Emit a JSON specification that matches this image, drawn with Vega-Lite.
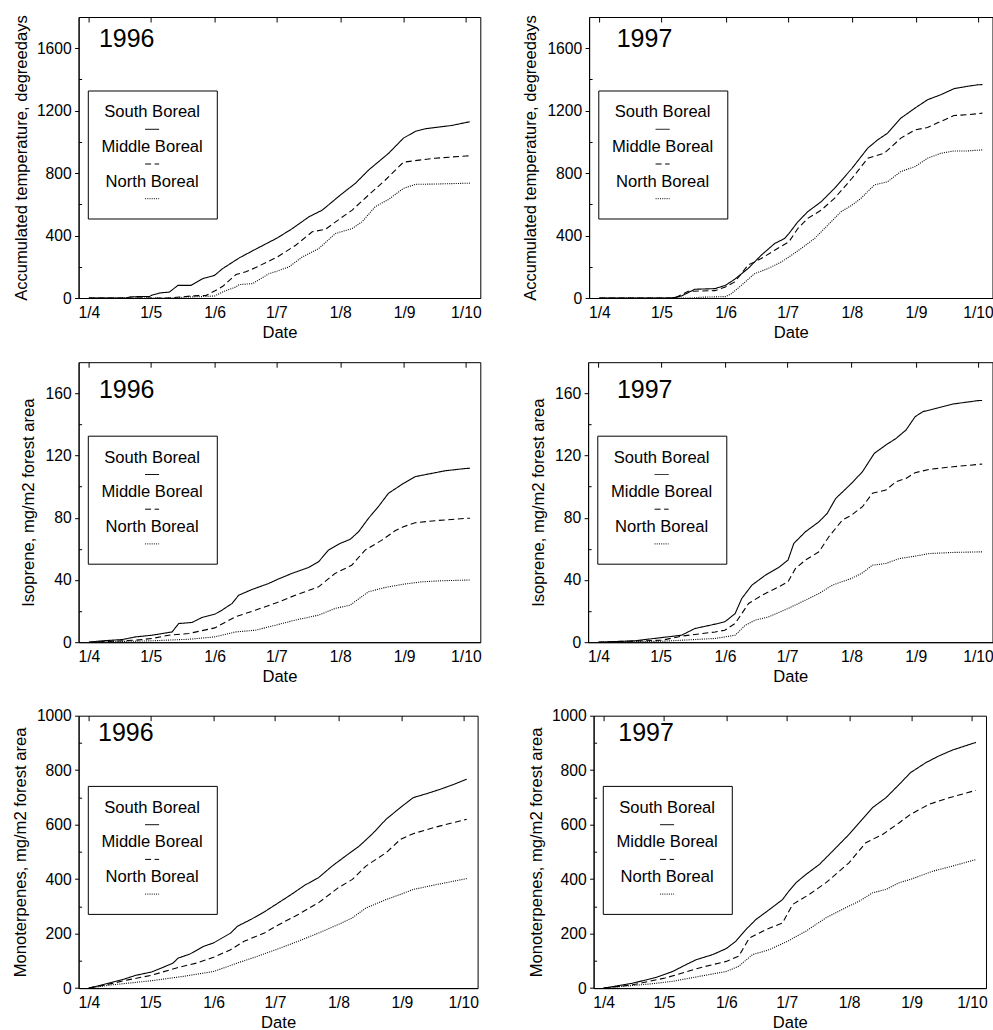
{
"$schema": "https://vega.github.io/schema/vega-lite/v6.json",
"padding": {"left": 11.6, "top": 14, "right": 0, "bottom": 0},
"datasets": {
"t96": [
{"zone":"South Boreal","day":0,"value":0},{"zone":"South Boreal","day":18,"value":0},{"zone":"South Boreal","day":20.6,"value":8},{"zone":"South Boreal","day":29.5,"value":10},{"zone":"South Boreal","day":30.4,"value":17},{"zone":"South Boreal","day":34.3,"value":32},{"zone":"South Boreal","day":39.1,"value":38},{"zone":"South Boreal","day":43.2,"value":81},{"zone":"South Boreal","day":49.6,"value":81},{"zone":"South Boreal","day":55.3,"value":124},{"zone":"South Boreal","day":61,"value":145},{"zone":"South Boreal","day":64.9,"value":188},{"zone":"South Boreal","day":73,"value":257},{"zone":"South Boreal","day":81,"value":313},{"zone":"South Boreal","day":91.5,"value":385},{"zone":"South Boreal","day":98.8,"value":445},{"zone":"South Boreal","day":106.8,"value":520},{"zone":"South Boreal","day":113.3,"value":563},{"zone":"South Boreal","day":122.1,"value":660},{"zone":"South Boreal","day":129.4,"value":735},{"zone":"South Boreal","day":135.8,"value":820},{"zone":"South Boreal","day":145.5,"value":927},{"zone":"South Boreal","day":152.7,"value":1024},{"zone":"South Boreal","day":158.4,"value":1067},{"zone":"South Boreal","day":163.2,"value":1084},{"zone":"South Boreal","day":168,"value":1092},{"zone":"South Boreal","day":176.1,"value":1105},{"zone":"South Boreal","day":183,"value":1124},{"zone":"South Boreal","day":184.9,"value":1129},
{"zone":"Middle Boreal","day":0,"value":0},{"zone":"Middle Boreal","day":38,"value":0},{"zone":"Middle Boreal","day":44,"value":6},{"zone":"Middle Boreal","day":50,"value":13},{"zone":"Middle Boreal","day":57,"value":17},{"zone":"Middle Boreal","day":61,"value":45},{"zone":"Middle Boreal","day":65,"value":75},{"zone":"Middle Boreal","day":71.4,"value":150},{"zone":"Middle Boreal","day":76.2,"value":168},{"zone":"Middle Boreal","day":81,"value":195},{"zone":"Middle Boreal","day":91.5,"value":263},{"zone":"Middle Boreal","day":100.4,"value":338},{"zone":"Middle Boreal","day":108.4,"value":424},{"zone":"Middle Boreal","day":114.9,"value":441},{"zone":"Middle Boreal","day":122.1,"value":510},{"zone":"Middle Boreal","day":127.8,"value":563},{"zone":"Middle Boreal","day":135.8,"value":660},{"zone":"Middle Boreal","day":143.9,"value":756},{"zone":"Middle Boreal","day":152.7,"value":870},{"zone":"Middle Boreal","day":158.4,"value":880},{"zone":"Middle Boreal","day":168,"value":895},{"zone":"Middle Boreal","day":183,"value":910},{"zone":"Middle Boreal","day":184.9,"value":911},
{"zone":"North Boreal","day":0,"value":0},{"zone":"North Boreal","day":43,"value":0},{"zone":"North Boreal","day":47,"value":6},{"zone":"North Boreal","day":55.3,"value":9},{"zone":"North Boreal","day":61,"value":13},{"zone":"North Boreal","day":64.9,"value":39},{"zone":"North Boreal","day":71.4,"value":71},{"zone":"North Boreal","day":73,"value":86},{"zone":"North Boreal","day":79.4,"value":92},{"zone":"North Boreal","day":87.5,"value":156},{"zone":"North Boreal","day":91.5,"value":173},{"zone":"North Boreal","day":97.1,"value":199},{"zone":"North Boreal","day":103.6,"value":263},{"zone":"North Boreal","day":111.6,"value":317},{"zone":"North Boreal","day":119.7,"value":413},{"zone":"North Boreal","day":127.8,"value":445},{"zone":"North Boreal","day":132.6,"value":488},{"zone":"North Boreal","day":139,"value":585},{"zone":"North Boreal","day":145.5,"value":632},{"zone":"North Boreal","day":152.7,"value":702},{"zone":"North Boreal","day":158.4,"value":728},{"zone":"North Boreal","day":168,"value":730},{"zone":"North Boreal","day":183,"value":735},{"zone":"North Boreal","day":184.9,"value":736}
],
"t97": [
{"zone":"South Boreal","day":0,"value":0},{"zone":"South Boreal","day":34.9,"value":0},{"zone":"South Boreal","day":39.7,"value":13},{"zone":"South Boreal","day":46.1,"value":56},{"zone":"South Boreal","day":55.8,"value":60},{"zone":"South Boreal","day":60.9,"value":81},{"zone":"South Boreal","day":65.4,"value":120},{"zone":"South Boreal","day":71.8,"value":188},{"zone":"South Boreal","day":78.2,"value":274},{"zone":"South Boreal","day":84.7,"value":349},{"zone":"South Boreal","day":89.5,"value":381},{"zone":"South Boreal","day":91.6,"value":413},{"zone":"South Boreal","day":95.9,"value":488},{"zone":"South Boreal","day":100.7,"value":553},{"zone":"South Boreal","day":107.2,"value":617},{"zone":"South Boreal","day":113.6,"value":702},{"zone":"South Boreal","day":122.1,"value":831},{"zone":"South Boreal","day":129.7,"value":960},{"zone":"South Boreal","day":134.5,"value":1013},{"zone":"South Boreal","day":139.3,"value":1056},{"zone":"South Boreal","day":145.7,"value":1152},{"zone":"South Boreal","day":152.6,"value":1217},{"zone":"South Boreal","day":158.6,"value":1270},{"zone":"South Boreal","day":165,"value":1302},{"zone":"South Boreal","day":171.4,"value":1341},{"zone":"South Boreal","day":177.9,"value":1356},{"zone":"South Boreal","day":183,"value":1366},{"zone":"South Boreal","day":185.1,"value":1367},
{"zone":"Middle Boreal","day":0,"value":0},{"zone":"Middle Boreal","day":36.5,"value":0},{"zone":"Middle Boreal","day":42.9,"value":43},{"zone":"Middle Boreal","day":55.8,"value":47},{"zone":"Middle Boreal","day":60.9,"value":71},{"zone":"Middle Boreal","day":65.4,"value":103},{"zone":"Middle Boreal","day":71.8,"value":210},{"zone":"Middle Boreal","day":78.2,"value":253},{"zone":"Middle Boreal","day":84.7,"value":306},{"zone":"Middle Boreal","day":91.6,"value":360},{"zone":"Middle Boreal","day":95.9,"value":445},{"zone":"Middle Boreal","day":100.7,"value":510},{"zone":"Middle Boreal","day":107.2,"value":563},{"zone":"Middle Boreal","day":113.6,"value":638},{"zone":"Middle Boreal","day":122.1,"value":767},{"zone":"Middle Boreal","day":129.7,"value":895},{"zone":"Middle Boreal","day":137.7,"value":927},{"zone":"Middle Boreal","day":145.7,"value":1024},{"zone":"Middle Boreal","day":152.6,"value":1077},{"zone":"Middle Boreal","day":158.6,"value":1092},{"zone":"Middle Boreal","day":165,"value":1131},{"zone":"Middle Boreal","day":171.4,"value":1169},{"zone":"Middle Boreal","day":177.9,"value":1174},{"zone":"Middle Boreal","day":185.1,"value":1184},
{"zone":"North Boreal","day":0,"value":0},{"zone":"North Boreal","day":45,"value":0},{"zone":"North Boreal","day":49.3,"value":5},{"zone":"North Boreal","day":60.9,"value":9},{"zone":"North Boreal","day":63.8,"value":28},{"zone":"North Boreal","day":68.6,"value":81},{"zone":"North Boreal","day":75,"value":156},{"zone":"North Boreal","day":81.4,"value":188},{"zone":"North Boreal","day":87.9,"value":231},{"zone":"North Boreal","day":91.6,"value":263},{"zone":"North Boreal","day":97.5,"value":317},{"zone":"North Boreal","day":104,"value":381},{"zone":"North Boreal","day":110.4,"value":467},{"zone":"North Boreal","day":116.8,"value":553},{"zone":"North Boreal","day":122.1,"value":595},{"zone":"North Boreal","day":126.4,"value":638},{"zone":"North Boreal","day":132.9,"value":724},{"zone":"North Boreal","day":139.3,"value":745},{"zone":"North Boreal","day":145.7,"value":810},{"zone":"North Boreal","day":152.6,"value":842},{"zone":"North Boreal","day":158.6,"value":895},{"zone":"North Boreal","day":165,"value":927},{"zone":"North Boreal","day":171.4,"value":942},{"zone":"North Boreal","day":177.9,"value":942},{"zone":"North Boreal","day":185.1,"value":949}
],
"i96": [
{"zone":"South Boreal","day":0,"value":0},{"zone":"South Boreal","day":6.5,"value":0.9},{"zone":"South Boreal","day":16.2,"value":1.7},{"zone":"South Boreal","day":22.6,"value":3.4},{"zone":"South Boreal","day":30.7,"value":4.5},{"zone":"South Boreal","day":40.4,"value":6.6},{"zone":"South Boreal","day":43.6,"value":12},{"zone":"South Boreal","day":50.1,"value":12.7},{"zone":"South Boreal","day":54.9,"value":15.9},{"zone":"South Boreal","day":61.1,"value":18},{"zone":"South Boreal","day":64.6,"value":20.6},{"zone":"South Boreal","day":69.5,"value":24.9},{"zone":"South Boreal","day":72.7,"value":30.2},{"zone":"South Boreal","day":79.2,"value":33.9},{"zone":"South Boreal","day":87.2,"value":37.7},{"zone":"South Boreal","day":91.4,"value":40.3},{"zone":"South Boreal","day":98.5,"value":44.2},{"zone":"South Boreal","day":106.6,"value":48},{"zone":"South Boreal","day":111.5,"value":51.7},{"zone":"South Boreal","day":116.3,"value":59.2},{"zone":"South Boreal","day":122,"value":63.5},{"zone":"South Boreal","day":126.8,"value":66.1},{"zone":"South Boreal","day":130.9,"value":71},{"zone":"South Boreal","day":135.7,"value":79.6},{"zone":"South Boreal","day":140.5,"value":87.1},{"zone":"South Boreal","day":145.4,"value":95.7},{"zone":"South Boreal","day":152.7,"value":102.1},{"zone":"South Boreal","day":158.3,"value":106.4},{"zone":"South Boreal","day":164.8,"value":108.1},{"zone":"South Boreal","day":172.9,"value":110.2},{"zone":"South Boreal","day":183,"value":111.7},{"zone":"South Boreal","day":185,"value":111.8},
{"zone":"Middle Boreal","day":0,"value":0},{"zone":"Middle Boreal","day":22.6,"value":1.3},{"zone":"Middle Boreal","day":30.7,"value":2.4},{"zone":"Middle Boreal","day":38.8,"value":4.5},{"zone":"Middle Boreal","day":48.5,"value":5.6},{"zone":"Middle Boreal","day":61.1,"value":9.2},{"zone":"Middle Boreal","day":71.1,"value":16.3},{"zone":"Middle Boreal","day":80.8,"value":20.6},{"zone":"Middle Boreal","day":91.4,"value":25.5},{"zone":"Middle Boreal","day":100.2,"value":30.2},{"zone":"Middle Boreal","day":111.5,"value":35.6},{"zone":"Middle Boreal","day":119.5,"value":44.2},{"zone":"Middle Boreal","day":127.6,"value":49.5},{"zone":"Middle Boreal","day":134.1,"value":59.2},{"zone":"Middle Boreal","day":142.2,"value":65.6},{"zone":"Middle Boreal","day":148.6,"value":71.6},{"zone":"Middle Boreal","day":152.7,"value":74.2},{"zone":"Middle Boreal","day":158.3,"value":76.8},{"zone":"Middle Boreal","day":168,"value":78.1},{"zone":"Middle Boreal","day":183,"value":79.6},{"zone":"Middle Boreal","day":185,"value":79.7},
{"zone":"North Boreal","day":0,"value":0},{"zone":"North Boreal","day":30.7,"value":0.9},{"zone":"North Boreal","day":48.5,"value":1.9},{"zone":"North Boreal","day":61.1,"value":3.4},{"zone":"North Boreal","day":71.1,"value":6.6},{"zone":"North Boreal","day":80.8,"value":7.7},{"zone":"North Boreal","day":91.4,"value":11.2},{"zone":"North Boreal","day":100.2,"value":14.2},{"zone":"North Boreal","day":111.5,"value":17.4},{"zone":"North Boreal","day":119.5,"value":21.7},{"zone":"North Boreal","day":126.8,"value":23.8},{"zone":"North Boreal","day":135.7,"value":32.4},{"zone":"North Boreal","day":143.8,"value":35.2},{"zone":"North Boreal","day":152.7,"value":37.3},{"zone":"North Boreal","day":161.6,"value":38.8},{"zone":"North Boreal","day":171.2,"value":39.5},{"zone":"North Boreal","day":183,"value":39.9},{"zone":"North Boreal","day":185,"value":40}
],
"i97": [
{"zone":"South Boreal","day":0,"value":0},{"zone":"South Boreal","day":17.4,"value":0.9},{"zone":"South Boreal","day":30.7,"value":3},{"zone":"South Boreal","day":40.1,"value":4.5},{"zone":"South Boreal","day":46.5,"value":8.8},{"zone":"South Boreal","day":56.2,"value":11.6},{"zone":"South Boreal","day":60.9,"value":13.1},{"zone":"South Boreal","day":65.9,"value":18.4},{"zone":"South Boreal","day":69.1,"value":28.1},{"zone":"South Boreal","day":74,"value":36.7},{"zone":"South Boreal","day":80.5,"value":43.1},{"zone":"South Boreal","day":86.9,"value":48},{"zone":"South Boreal","day":91.4,"value":52.8},{"zone":"South Boreal","day":94.2,"value":63.5},{"zone":"South Boreal","day":99.8,"value":71},{"zone":"South Boreal","day":106.3,"value":77.4},{"zone":"South Boreal","day":110.3,"value":82.8},{"zone":"South Boreal","day":114.4,"value":92.4},{"zone":"South Boreal","day":122,"value":102.1},{"zone":"South Boreal","day":127.3,"value":109.6},{"zone":"South Boreal","day":133,"value":121.4},{"zone":"South Boreal","day":138.6,"value":126.8},{"zone":"South Boreal","day":143.5,"value":131},{"zone":"South Boreal","day":148.3,"value":136.4},{"zone":"South Boreal","day":152.7,"value":145},{"zone":"South Boreal","day":156.4,"value":148.2},{"zone":"South Boreal","day":162.8,"value":150.3},{"zone":"South Boreal","day":170.9,"value":153.1},{"zone":"South Boreal","day":183,"value":155.3},{"zone":"South Boreal","day":185,"value":155.4},
{"zone":"Middle Boreal","day":0,"value":0},{"zone":"Middle Boreal","day":30.7,"value":1.3},{"zone":"Middle Boreal","day":40.1,"value":3.9},{"zone":"Middle Boreal","day":56.2,"value":6.6},{"zone":"Middle Boreal","day":60.9,"value":7.7},{"zone":"Middle Boreal","day":65.9,"value":12},{"zone":"Middle Boreal","day":72.4,"value":24.9},{"zone":"Middle Boreal","day":78.8,"value":30.2},{"zone":"Middle Boreal","day":86.9,"value":35.6},{"zone":"Middle Boreal","day":91.4,"value":38.8},{"zone":"Middle Boreal","day":95,"value":47.4},{"zone":"Middle Boreal","day":99.8,"value":52.8},{"zone":"Middle Boreal","day":106.3,"value":58.1},{"zone":"Middle Boreal","day":111.1,"value":67.8},{"zone":"Middle Boreal","day":117.6,"value":78.5},{"zone":"Middle Boreal","day":122,"value":81.7},{"zone":"Middle Boreal","day":127.3,"value":87.1},{"zone":"Middle Boreal","day":132.1,"value":95.7},{"zone":"Middle Boreal","day":138.6,"value":97.8},{"zone":"Middle Boreal","day":143.5,"value":103.2},{"zone":"Middle Boreal","day":148.3,"value":105.3},{"zone":"Middle Boreal","day":152.7,"value":109},{"zone":"Middle Boreal","day":159.6,"value":111.1},{"zone":"Middle Boreal","day":170.9,"value":112.8},{"zone":"Middle Boreal","day":185,"value":114.5},
{"zone":"North Boreal","day":0,"value":0},{"zone":"North Boreal","day":30.7,"value":0.6},{"zone":"North Boreal","day":56.2,"value":2.4},{"zone":"North Boreal","day":60.9,"value":3.4},{"zone":"North Boreal","day":65.9,"value":4.5},{"zone":"North Boreal","day":70.8,"value":10.9},{"zone":"North Boreal","day":75.6,"value":14.2},{"zone":"North Boreal","day":82.1,"value":16.3},{"zone":"North Boreal","day":91.4,"value":21.7},{"zone":"North Boreal","day":98.2,"value":26},{"zone":"North Boreal","day":106.3,"value":31.3},{"zone":"North Boreal","day":112.8,"value":36.7},{"zone":"North Boreal","day":122,"value":41},{"zone":"North Boreal","day":127.3,"value":44.6},{"zone":"North Boreal","day":132.1,"value":49.5},{"zone":"North Boreal","day":138.6,"value":50.6},{"zone":"North Boreal","day":145.1,"value":53.8},{"zone":"North Boreal","day":152.7,"value":55.3},{"zone":"North Boreal","day":159.6,"value":57},{"zone":"North Boreal","day":170.9,"value":57.7},{"zone":"North Boreal","day":185,"value":58.1}
],
"m96": [
{"zone":"South Boreal","day":0,"value":0},{"zone":"South Boreal","day":8.1,"value":15},{"zone":"South Boreal","day":16.4,"value":31},{"zone":"South Boreal","day":23,"value":47},{"zone":"South Boreal","day":30.6,"value":59},{"zone":"South Boreal","day":36.2,"value":76},{"zone":"South Boreal","day":41.2,"value":92},{"zone":"South Boreal","day":43.6,"value":110},{"zone":"South Boreal","day":49.4,"value":125},{"zone":"South Boreal","day":56,"value":153},{"zone":"South Boreal","day":61,"value":166},{"zone":"South Boreal","day":69.3,"value":202},{"zone":"South Boreal","day":72.6,"value":227},{"zone":"South Boreal","day":79.2,"value":252},{"zone":"South Boreal","day":85.8,"value":280},{"zone":"South Boreal","day":91.4,"value":307},{"zone":"South Boreal","day":99,"value":344},{"zone":"South Boreal","day":105.6,"value":378},{"zone":"South Boreal","day":112.2,"value":405},{"zone":"South Boreal","day":118.9,"value":448},{"zone":"South Boreal","day":125.5,"value":485},{"zone":"South Boreal","day":132.1,"value":521},{"zone":"South Boreal","day":138.7,"value":567},{"zone":"South Boreal","day":145.3,"value":620},{"zone":"South Boreal","day":152.3,"value":663},{"zone":"South Boreal","day":158.5,"value":699},{"zone":"South Boreal","day":165.2,"value":714},{"zone":"South Boreal","day":171.8,"value":730},{"zone":"South Boreal","day":178.4,"value":748},{"zone":"South Boreal","day":184.7,"value":767},
{"zone":"Middle Boreal","day":0,"value":0},{"zone":"Middle Boreal","day":8.1,"value":12},{"zone":"Middle Boreal","day":19.7,"value":31},{"zone":"Middle Boreal","day":30.6,"value":47},{"zone":"Middle Boreal","day":42.8,"value":74},{"zone":"Middle Boreal","day":52.7,"value":92},{"zone":"Middle Boreal","day":61,"value":113},{"zone":"Middle Boreal","day":69.3,"value":141},{"zone":"Middle Boreal","day":75.9,"value":172},{"zone":"Middle Boreal","day":85.8,"value":202},{"zone":"Middle Boreal","day":91.4,"value":227},{"zone":"Middle Boreal","day":102.3,"value":270},{"zone":"Middle Boreal","day":112.2,"value":313},{"zone":"Middle Boreal","day":121.8,"value":368},{"zone":"Middle Boreal","day":128.8,"value":399},{"zone":"Middle Boreal","day":135.4,"value":448},{"zone":"Middle Boreal","day":145.3,"value":497},{"zone":"Middle Boreal","day":152.3,"value":546},{"zone":"Middle Boreal","day":158.5,"value":567},{"zone":"Middle Boreal","day":168.5,"value":589},{"zone":"Middle Boreal","day":184.7,"value":620},
{"zone":"North Boreal","day":0,"value":0},{"zone":"North Boreal","day":11.4,"value":12},{"zone":"North Boreal","day":30.6,"value":27},{"zone":"North Boreal","day":46.1,"value":43},{"zone":"North Boreal","day":61,"value":61},{"zone":"North Boreal","day":72.6,"value":92},{"zone":"North Boreal","day":82.5,"value":117},{"zone":"North Boreal","day":91.4,"value":141},{"zone":"North Boreal","day":102.3,"value":172},{"zone":"North Boreal","day":112.2,"value":202},{"zone":"North Boreal","day":121.8,"value":233},{"zone":"North Boreal","day":128.8,"value":258},{"zone":"North Boreal","day":135.4,"value":294},{"zone":"North Boreal","day":145.3,"value":325},{"zone":"North Boreal","day":152.3,"value":344},{"zone":"North Boreal","day":158.5,"value":362},{"zone":"North Boreal","day":168.5,"value":378},{"zone":"North Boreal","day":184.7,"value":402}
],
"m97": [
{"zone":"South Boreal","day":0,"value":0},{"zone":"South Boreal","day":14.4,"value":18},{"zone":"South Boreal","day":26,"value":39},{"zone":"South Boreal","day":34.3,"value":61},{"zone":"South Boreal","day":40.9,"value":86},{"zone":"South Boreal","day":45.9,"value":104},{"zone":"South Boreal","day":54.2,"value":123},{"zone":"South Boreal","day":60.9,"value":145},{"zone":"South Boreal","day":65.7,"value":172},{"zone":"South Boreal","day":70.7,"value":215},{"zone":"South Boreal","day":75.7,"value":252},{"zone":"South Boreal","day":82.3,"value":288},{"zone":"South Boreal","day":88.9,"value":325},{"zone":"South Boreal","day":91.4,"value":350},{"zone":"South Boreal","day":95.6,"value":387},{"zone":"South Boreal","day":100.5,"value":417},{"zone":"South Boreal","day":107.2,"value":454},{"zone":"South Boreal","day":113.8,"value":503},{"zone":"South Boreal","day":121.9,"value":564},{"zone":"South Boreal","day":127,"value":607},{"zone":"South Boreal","day":133.7,"value":663},{"zone":"South Boreal","day":140.3,"value":699},{"zone":"South Boreal","day":146.9,"value":748},{"zone":"South Boreal","day":152.5,"value":791},{"zone":"South Boreal","day":160.2,"value":828},{"zone":"South Boreal","day":166.8,"value":853},{"zone":"South Boreal","day":173.4,"value":874},{"zone":"South Boreal","day":180,"value":890},{"zone":"South Boreal","day":185,"value":902},
{"zone":"Middle Boreal","day":0,"value":0},{"zone":"Middle Boreal","day":14.4,"value":12},{"zone":"Middle Boreal","day":30.5,"value":37},{"zone":"Middle Boreal","day":40.9,"value":59},{"zone":"Middle Boreal","day":47.5,"value":74},{"zone":"Middle Boreal","day":60.9,"value":98},{"zone":"Middle Boreal","day":67.1,"value":117},{"zone":"Middle Boreal","day":72.4,"value":184},{"zone":"Middle Boreal","day":80.7,"value":215},{"zone":"Middle Boreal","day":88.9,"value":239},{"zone":"Middle Boreal","day":93.9,"value":307},{"zone":"Middle Boreal","day":102.2,"value":344},{"zone":"Middle Boreal","day":110.5,"value":387},{"zone":"Middle Boreal","day":121.9,"value":460},{"zone":"Middle Boreal","day":130.3,"value":534},{"zone":"Middle Boreal","day":138.6,"value":564},{"zone":"Middle Boreal","day":146.9,"value":607},{"zone":"Middle Boreal","day":152.5,"value":638},{"zone":"Middle Boreal","day":161.8,"value":675},{"zone":"Middle Boreal","day":171.7,"value":699},{"zone":"Middle Boreal","day":185,"value":726},
{"zone":"North Boreal","day":0,"value":0},{"zone":"North Boreal","day":22.7,"value":15},{"zone":"North Boreal","day":34.3,"value":25},{"zone":"North Boreal","day":47.5,"value":43},{"zone":"North Boreal","day":60.9,"value":61},{"zone":"North Boreal","day":67.1,"value":80},{"zone":"North Boreal","day":74,"value":123},{"zone":"North Boreal","day":82.3,"value":141},{"zone":"North Boreal","day":91.4,"value":172},{"zone":"North Boreal","day":100.5,"value":209},{"zone":"North Boreal","day":110.5,"value":258},{"zone":"North Boreal","day":121.9,"value":301},{"zone":"North Boreal","day":127,"value":319},{"zone":"North Boreal","day":133.7,"value":350},{"zone":"North Boreal","day":140.3,"value":362},{"zone":"North Boreal","day":146.9,"value":387},{"zone":"North Boreal","day":152.5,"value":399},{"zone":"North Boreal","day":163.5,"value":429},{"zone":"North Boreal","day":173.4,"value":448},{"zone":"North Boreal","day":185,"value":472}
]
},
"columns": 1,
"align": "none",
"spacing": 20.7,
"resolve": {"scale": {"strokeDash": "independent"}},
"concat": [
{"columns": 1, "align": "none", "spacing": 19.2, "resolve": {"scale": {"strokeDash": "independent"}},
 "concat": [
 {"hconcat": [
  {"width": 401.7, "height": 281, "data": {"name": "t96"},
   "title": {"text": "1996", "dx": 20.3, "dy": 41.3},
   "mark": {"type": "line", "color": "black", "strokeWidth": 1.1},
   "encoding": {
    "x": {"field": "day", "type": "quantitative", "scale": {"domain": [-5, 190], "nice": false, "zero": false}, "axis": {"title": "Date", "values": [0,30,61,91,122,153,183], "labelExpr": "['1/4','1/5','1/6','1/7','1/8','1/9','1/10'][indexof([0,30,61,91,122,153,183], datum.value)]"}},
    "y": {"field": "value", "type": "quantitative", "scale": {"domain": [0, 1800], "nice": false},
          "axis": {"title": "Accumulated temperature, degreedays", "values": [0,200,400,600,800,1000,1200,1400,1600], "format": "d", "labelExpr": "datum.value % 400 == 0 ? datum.label : ''", "titlePadding": 7,
                   "tickOpacity": {"condition": {"test": "datum.value % 400 == 0", "value": 1}, "value": 0},
                   "gridOpacity": {"condition": {"test": "datum.value % 400 == 0", "value": 0}, "value": 1}}},
    "strokeDash": {"field": "zone", "type": "nominal", "scale": {"domain": ["South Boreal","Middle Boreal","North Boreal"], "range": [[1,0],[6,3.5],[1,1.2]]},
      "legend": {"legendY": 73.5, "encode": {"labels": {"update": {"x": {"value": 50.8}, "y": {"value": 8.3}}}, "symbols": {"update": {"x": {"value": 50.8}, "y": {"value": 25.3}}}}}}
   }},
  {"width": 403.4, "height": 281, "data": {"name": "t97"},
   "title": {"text": "1997", "dx": 27.6, "dy": 41.3},
   "mark": {"type": "line", "color": "black", "strokeWidth": 1.1},
   "encoding": {
    "x": {"field": "day", "type": "quantitative", "scale": {"domain": [-5, 190], "nice": false, "zero": false}, "axis": {"title": "Date", "values": [0,30,61,91,122,153,183], "labelExpr": "['1/4','1/5','1/6','1/7','1/8','1/9','1/10'][indexof([0,30,61,91,122,153,183], datum.value)]"}},
    "y": {"field": "value", "type": "quantitative", "scale": {"domain": [0, 1800], "nice": false},
          "axis": {"title": "Accumulated temperature, degreedays", "values": [0,200,400,600,800,1000,1200,1400,1600], "format": "d", "labelExpr": "datum.value % 400 == 0 ? datum.label : ''", "titlePadding": 8.3,
                   "tickOpacity": {"condition": {"test": "datum.value % 400 == 0", "value": 1}, "value": 0},
                   "gridOpacity": {"condition": {"test": "datum.value % 400 == 0", "value": 0}, "value": 1}}},
    "strokeDash": {"field": "zone", "type": "nominal", "scale": {"domain": ["South Boreal","Middle Boreal","North Boreal"], "range": [[1,0],[6,3.5],[1,1.2]]},
      "legend": {"legendY": 73.5, "encode": {"labels": {"update": {"x": {"value": 50.8}, "y": {"value": 8.3}}}, "symbols": {"update": {"x": {"value": 50.8}, "y": {"value": 25.3}}}}}}
   }}
 ], "spacing": 39.5, "resolve": {"scale": {"strokeDash": "independent"}}},
 {"hconcat": [
  {"width": 401.7, "height": 280, "data": {"name": "i96"},
   "title": {"text": "1996", "dx": 20.3, "dy": 44.7},
   "mark": {"type": "line", "color": "black", "strokeWidth": 1.1},
   "encoding": {
    "x": {"field": "day", "type": "quantitative", "scale": {"domain": [-5, 190], "nice": false, "zero": false}, "axis": {"title": "Date", "values": [0,30,61,91,122,153,183], "labelExpr": "['1/4','1/5','1/6','1/7','1/8','1/9','1/10'][indexof([0,30,61,91,122,153,183], datum.value)]"}},
    "y": {"field": "value", "type": "quantitative", "scale": {"domain": [0, 180], "nice": false},
          "axis": {"title": "Isoprene, mg/m2 forest area", "values": [0,20,40,60,80,100,120,140,160], "format": "d", "labelExpr": "datum.value % 40 == 0 ? datum.label : ''", "titlePadding": 8.9,
                   "tickOpacity": {"condition": {"test": "datum.value % 40 == 0", "value": 1}, "value": 0},
                   "gridOpacity": {"condition": {"test": "datum.value % 40 == 0", "value": 0}, "value": 1}}},
    "strokeDash": {"field": "zone", "type": "nominal", "scale": {"domain": ["South Boreal","Middle Boreal","North Boreal"], "range": [[1,0],[6,3.5],[1,1.2]]},
      "legend": {"legendY": 73.5, "encode": {"labels": {"update": {"x": {"value": 50.8}, "y": {"value": 8.3}}}, "symbols": {"update": {"x": {"value": 50.8}, "y": {"value": 25.3}}}}}}
   }},
  {"width": 404.4, "height": 280, "data": {"name": "i97"},
   "title": {"text": "1997", "dx": 28.8, "dy": 44.7},
   "mark": {"type": "line", "color": "black", "strokeWidth": 1.1},
   "encoding": {
    "x": {"field": "day", "type": "quantitative", "scale": {"domain": [-5, 190], "nice": false, "zero": false}, "axis": {"title": "Date", "values": [0,30,61,91,122,153,183], "labelExpr": "['1/4','1/5','1/6','1/7','1/8','1/9','1/10'][indexof([0,30,61,91,122,153,183], datum.value)]"}},
    "y": {"field": "value", "type": "quantitative", "scale": {"domain": [0, 180], "nice": false},
          "axis": {"title": "Isoprene, mg/m2 forest area", "values": [0,20,40,60,80,100,120,140,160], "format": "d", "labelExpr": "datum.value % 40 == 0 ? datum.label : ''", "titlePadding": 7.8,
                   "tickOpacity": {"condition": {"test": "datum.value % 40 == 0", "value": 1}, "value": 0},
                   "gridOpacity": {"condition": {"test": "datum.value % 40 == 0", "value": 0}, "value": 1}}},
    "strokeDash": {"field": "zone", "type": "nominal", "scale": {"domain": ["South Boreal","Middle Boreal","North Boreal"], "range": [[1,0],[6,3.5],[1,1.2]]},
      "legend": {"legendY": 73.5, "encode": {"labels": {"update": {"x": {"value": 50.8}, "y": {"value": 8.3}}}, "symbols": {"update": {"x": {"value": 50.8}, "y": {"value": 25.3}}}}}}
   }}
 ], "spacing": 47.5, "resolve": {"scale": {"strokeDash": "independent"}}}
]},
{"hconcat": [
  {"width": 399, "height": 272.4, "data": {"name": "m96"},
   "title": {"text": "1996", "dx": 19.4, "dy": 42},
   "mark": {"type": "line", "color": "black", "strokeWidth": 1.1},
   "encoding": {
    "x": {"field": "day", "type": "quantitative", "scale": {"domain": [-5, 190], "nice": false, "zero": false}, "axis": {"title": "Date", "values": [0,30,61,91,122,153,183], "labelExpr": "['1/4','1/5','1/6','1/7','1/8','1/9','1/10'][indexof([0,30,61,91,122,153,183], datum.value)]"}},
    "y": {"field": "value", "type": "quantitative", "scale": {"domain": [0, 1000], "nice": false},
          "axis": {"title": "Monoterpenes, mg/m2 forest area", "values": [0,100,200,300,400,500,600,700,800,900,1000], "format": "d", "labelExpr": "datum.value % 200 == 0 ? datum.label : ''", "titlePadding": 7.7,
                   "tickOpacity": {"condition": {"test": "datum.value % 200 == 0", "value": 1}, "value": 0},
                   "gridOpacity": {"condition": {"test": "datum.value % 200 == 0", "value": 0}, "value": 1}}},
    "strokeDash": {"field": "zone", "type": "nominal", "scale": {"domain": ["South Boreal","Middle Boreal","North Boreal"], "range": [[1,0],[6,3.5],[1,1.2]]},
      "legend": {"legendY": 70.2, "encode": {"labels": {"update": {"x": {"value": 50.8}, "y": {"value": 8.3}}}, "symbols": {"update": {"x": {"value": 50.8}, "y": {"value": 25.3}}}}}}
   }},
  {"width": 392.4, "height": 272.4, "data": {"name": "m97"},
   "title": {"text": "1997", "dx": 24.7, "dy": 42},
   "mark": {"type": "line", "color": "black", "strokeWidth": 1.1},
   "encoding": {
    "x": {"field": "day", "type": "quantitative", "scale": {"domain": [-5, 190], "nice": false, "zero": false}, "axis": {"title": "Date", "values": [0,30,61,91,122,153,183], "labelExpr": "['1/4','1/5','1/6','1/7','1/8','1/9','1/10'][indexof([0,30,61,91,122,153,183], datum.value)]"}},
    "y": {"field": "value", "type": "quantitative", "scale": {"domain": [0, 1000], "nice": false},
          "axis": {"title": "Monoterpenes, mg/m2 forest area", "values": [0,100,200,300,400,500,600,700,800,900,1000], "format": "d", "labelExpr": "datum.value % 200 == 0 ? datum.label : ''", "titlePadding": 7.3,
                   "tickOpacity": {"condition": {"test": "datum.value % 200 == 0", "value": 1}, "value": 0},
                   "gridOpacity": {"condition": {"test": "datum.value % 200 == 0", "value": 0}, "value": 1}}},
    "strokeDash": {"field": "zone", "type": "nominal", "scale": {"domain": ["South Boreal","Middle Boreal","North Boreal"], "range": [[1,0],[6,3.5],[1,1.2]]},
      "legend": {"legendY": 70.2, "encode": {"labels": {"update": {"x": {"value": 50.8}, "y": {"value": 8.3}}}, "symbols": {"update": {"x": {"value": 50.8}, "y": {"value": 25.3}}}}}}
   }}
 ], "spacing": 48, "resolve": {"scale": {"strokeDash": "independent"}}}
],
"config": {
 "font": "Liberation Sans",
 "background": "white",
 "view": {"stroke": "black", "strokeWidth": 1},
 "axis": {"domainColor": "black", "labelColor": "black", "titleColor": "black", "labelFont": "Liberation Sans", "titleFont": "Liberation Sans", "labelFontSize": 15.7, "titleFontSize": 16.6, "titleFontWeight": "normal", "grid": true, "gridColor": "black", "gridWidth": 1, "tickColor": "black"},
 "axisX": {"ticks": false, "labelPadding": 7.5, "titlePadding": 3.8, "labelFlush": false, "labelOverlap": false, "gridDash": [5, 5000], "gridOpacity": 1},
 "axisY": {"ticks": true, "tickSize": 4, "labelPadding": 3.3, "labelOverlap": false, "gridDash": [3, 5000]},
 "title": {"font": "Liberation Sans", "fontSize": 25, "fontWeight": "normal", "color": "black", "anchor": "start", "frame": "group", "baseline": "alphabetic", "offset": 0},
 "legend": {"orient": "none", "legendX": 9.2, "title": null, "strokeColor": "black", "fillColor": "white", "padding": 13.5, "symbolType": "M-1,0L1,0M0,0.6", "symbolSize": 196, "symbolStrokeColor": "black", "symbolStrokeWidth": 1, "labelFont": "Liberation Sans", "labelFontSize": 16.6, "labelColor": "black", "labelAlign": "center", "labelLimit": 300, "rowPadding": 2.7, "direction": "vertical", "symbolFillColor": "transparent"}
}
}
